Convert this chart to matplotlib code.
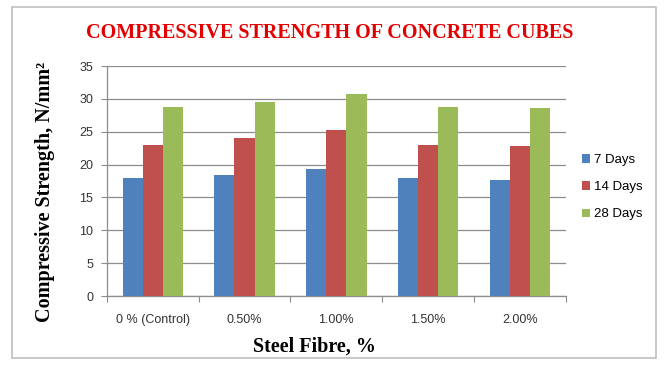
import matplotlib.pyplot as plt
import numpy as np
from matplotlib.patches import Rectangle

categories = ["0 % (Control)", "0.50%", "1.00%", "1.50%", "2.00%"]
days_7 = [18.0, 18.4, 19.4, 17.9, 17.7]
days_14 = [23.0, 24.0, 25.2, 23.0, 22.8]
days_28 = [28.8, 29.6, 30.8, 28.7, 28.6]
series_names = ["7 Days", "14 Days", "28 Days"]
colors = ["#4F81BD", "#C0504D", "#9BBB59"]
yticks = [0, 5, 10, 15, 20, 25, 30, 35]

sans = "Liberation Sans"
serif = "Liberation Serif"
axis_grey = "#8C8C8C"

fig = plt.figure(figsize=(6.64, 3.65), dpi=100)
ax = fig.add_axes([0.161, 0.189, 0.691, 0.630])

x = np.arange(len(categories))
w = 0.22
for i, (vals, name, col) in enumerate(zip([days_7, days_14, days_28], series_names, colors)):
    ax.bar(x + (i - 1) * w, vals, w, color=col, label=name, zorder=3)

ax.set_xlim(-0.5, len(categories) - 0.5)
ax.set_ylim(0, 35)
ax.set_yticks(yticks)
ax.yaxis.grid(True, color=axis_grey, linewidth=0.9, zorder=0)

# category boundary ticks on the x axis
ax.set_xticks(np.arange(-0.5, len(categories), 1.0))
ax.set_xticklabels([])
ax.set_xticks(x, minor=True)
ax.set_xticklabels(categories, minor=True, fontsize=9, family=sans, color="#333333")
ax.tick_params(axis="x", which="major", length=4, color=axis_grey, direction="out")
ax.tick_params(axis="x", which="minor", length=0, pad=13)
ax.tick_params(axis="y", length=4, color=axis_grey, labelsize=9, labelcolor="#333333", pad=6)
for lbl in ax.get_yticklabels():
    lbl.set_family(sans)

for side in ["top", "right"]:
    ax.spines[side].set_visible(False)
for side in ["left", "bottom"]:
    ax.spines[side].set_color(axis_grey)
    ax.spines[side].set_linewidth(0.9)

# axis titles placed in figure coordinates
fig.text(314 / 664, 1 - 347 / 365, "Steel Fibre, %", ha="center", va="center",
         fontsize=14.5, family=serif, fontweight="bold")
fig.text(45 / 664, 1 - 192 / 365, "Compressive Strength, N/mm²", ha="center",
         va="center", rotation=90, fontsize=14.5, family=serif, fontweight="bold")

fig.text(0.497, 1 - 33 / 365, "COMPRESSIVE STRENGTH OF CONCRETE CUBES", ha="center",
         va="center", fontsize=14.5, family=serif, fontweight="bold", color="#E30000")

ax.legend(loc="center left", bbox_to_anchor=(1.01, 0.473), frameon=False,
          prop={"family": sans, "size": 9.5}, handlelength=0.6, handleheight=0.6,
          handletextpad=0.3, labelspacing=1.15)

# outer chart frame
fig.patches.append(Rectangle((12 / 664, 7 / 365), 644 / 664, 351 / 365, transform=fig.transFigure,
                             fill=False, edgecolor="#BFBFBF", linewidth=1.2))

fig.savefig("out.png", dpi=100)
